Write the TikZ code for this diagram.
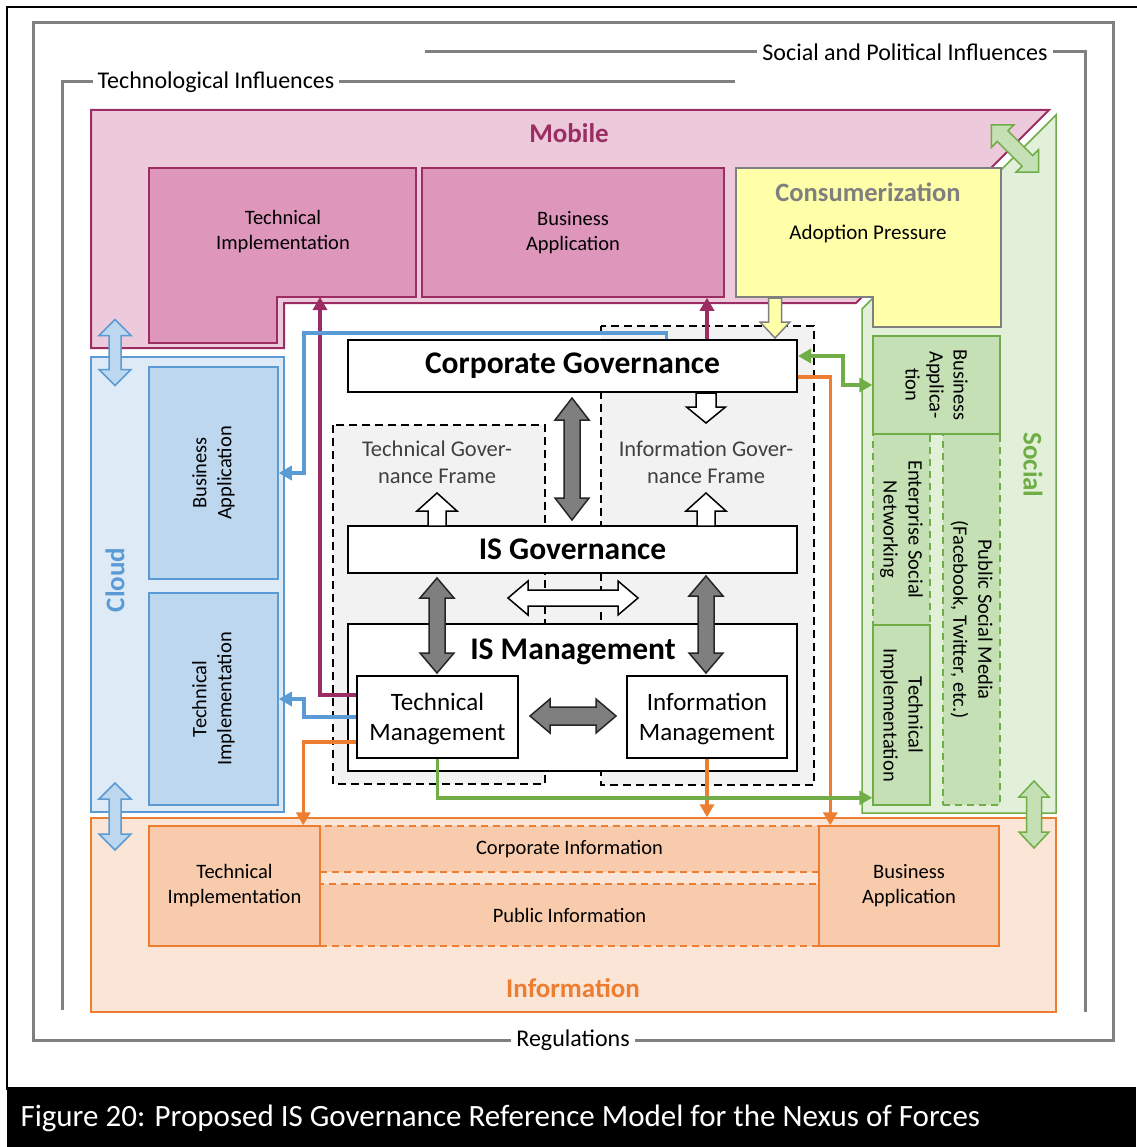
\documentclass[tikz,border=0pt]{standalone}
\usepackage{fontspec}
\setmainfont{Carlito}
\usetikzlibrary{arrows.meta,fit,positioning}

\definecolor{mobfill}{RGB}{236,201,219}
\definecolor{mobbox}{RGB}{222,150,187}
\definecolor{mobline}{RGB}{155,45,99}
\definecolor{cldfill}{RGB}{222,235,247}
\definecolor{cldbox}{RGB}{189,215,238}
\definecolor{cldline}{RGB}{91,155,213}
\definecolor{socfill}{RGB}{226,240,217}
\definecolor{socbox}{RGB}{197,224,180}
\definecolor{socline}{RGB}{112,173,71}
\definecolor{inffill}{RGB}{251,229,214}
\definecolor{infbox}{RGB}{248,203,173}
\definecolor{infline}{RGB}{237,125,49}
\definecolor{consfill}{RGB}{255,255,170}
\definecolor{consline}{RGB}{127,127,127}
\definecolor{framegray}{RGB}{128,128,128}
\definecolor{paneg}{RGB}{242,242,242}
\definecolor{darkarr}{RGB}{127,127,127}

% block arrows: style, centre, angle, half length, shaft/2, head/2, head length
\newcommand{\dblarr}[7]{%
  \begin{scope}[shift={#2},rotate=#3]
    \draw[#1] (-#4,0) -- (-#4+#7,#6) -- (-#4+#7,#5) -- (#4-#7,#5) -- (#4-#7,#6)
      -- (#4,0) -- (#4-#7,-#6) -- (#4-#7,-#5) -- (-#4+#7,-#5) -- (-#4+#7,-#6) -- cycle;
  \end{scope}}
\newcommand{\sglarr}[7]{%
  \begin{scope}[shift={#2},rotate=#3]
    \draw[#1] (-#4,#5) -- (#4-#7,#5) -- (#4-#7,#6) -- (#4,0) -- (#4-#7,-#6)
      -- (#4-#7,-#5) -- (-#4,-#5) -- cycle;
  \end{scope}}

\tikzset{
  frameline/.style={draw=framegray,line width=3pt},
  framelabel/.style={fill=white,inner sep=5pt,font=\fontsize{24}{28}\selectfont},
  region/.style={inner sep=0pt,line width=1.5pt},
  regtitle/.style={font=\bfseries\fontsize{27}{30}\selectfont},
  fitbox/.style={inner sep=0pt,line width=1.5pt},
  boxtxt/.style={align=center,font=\fontsize{20.5}{25}\selectfont},
  mobbx/.style={fitbox,draw=mobline,fill=mobbox},
  cldbx/.style={fitbox,draw=cldline,fill=cldbox},
  socbx/.style={fitbox,draw=socline,fill=socbox},
  infbx/.style={fitbox,draw=infline,fill=infbox},
  socdash/.style={dash pattern=on 7pt off 5pt},
  govbx/.style={fitbox,draw=black,fill=white,line width=2pt},
  govtxt/.style={font=\bfseries\fontsize{31.5}{34}\selectfont},
  mgttxt/.style={align=center,yshift=-2pt,font=\fontsize{25}{30}\selectfont},
  pane/.style={draw=black,line width=1.5pt,dash pattern=on 8pt off 5pt},
  panetxt/.style={align=center,text=black!75,font=\fontsize{22.5}{27}\selectfont},
  magln/.style={draw=mobline,line width=3.5pt},
  bluln/.style={draw=cldline,line width=3.5pt},
  orgln/.style={draw=infline,line width=3.5pt},
  grnln/.style={draw=socline,line width=3.5pt},
  dkarr/.style={draw=black!85,fill=darkarr,line width=1.5pt},
  hlarr/.style={draw=black,fill=white,line width=1.5pt},
  ylarr/.style={draw=consline,fill=consfill,line width=1.5pt},
  clarr/.style={draw=cldline,fill=cldbox,line width=1.5pt},
  soarr/.style={draw=socline,fill=socbox,line width=1.5pt}
}

\begin{document}
\begin{tikzpicture}[x=1pt,y=-1pt,line join=miter,>={Triangle[length=13pt,width=14pt]}]
\useasboundingbox (0,0) rectangle (1136,1147);

% page border and caption
\draw[line width=2pt] (7,1090) -- (7,7) -- (1140,7);
\fill[black] (7,1087) rectangle (1136,1147);
\node[anchor=west,text=white,font=\fontsize{31}{34}\selectfont] (caption) at (17,1118)
  {Figure 20: Proposed IS Governance Reference Model for the Nexus of Forces};

% influence frames
\draw[frameline] (33,23) rectangle (1113,1040);
\node[framelabel] (reg) at (573,1040) {Regulations};
\draw[frameline] (425,52) -- (1085,52) -- (1085,1012);
\node[framelabel] (spi) at (905,52) {Social and Political Influences};
\draw[frameline] (735,82) -- (62,82) -- (62,1010);
\node[framelabel] (tei) at (216,82) {Technological Influences};

% the four forces
\draw[draw=socline,fill=socfill,line width=1.5pt] (862,309) -- (1056,115) -- (1056,813) -- (862,813) -- cycle;
\draw[draw=mobline,fill=mobfill,line width=2pt] (91,110) -- (1049,110) -- (856,303) -- (284,303) -- (284,348) -- (91,348) -- cycle;
\node[region,draw=cldline,fill=cldfill,fit={(91,357) (284,812)}] (cld) {};
\node[region,draw=infline,fill=inffill,fit={(91,818) (1056,1012)}] (inf) {};
\node[regtitle,text=mobline] (mobt) at (569,133) {Mobile};
\node[regtitle,text=infline] (inft) at (573,988) {Information};
\node[regtitle,text=cldline,rotate=90] (cldt) at (115,580) {Cloud};
\node[regtitle,text=socline,rotate=-90] (soct) at (1033,465) {Social};

% mobile
\draw[mobbx] (149,168) -- (416,168) -- (416,297) -- (277,297) -- (277,343) -- (149,343) -- cycle;
\coordinate (mtiend) at (320,297);
\node[boxtxt] (mti) at (283,232) {Technical\\Implementation};
\node[mobbx,fit={(422,168) (724,297)}] (mba) {};
\node[boxtxt] at (mba) {Business\\Application};

% consumerization
\draw[draw=consline,fill=consfill,line width=2pt] (736,168) -- (1001,168) -- (1001,327) -- (873,327) -- (873,297) -- (736,297) -- cycle;
\node[font=\bfseries\fontsize{26.5}{30}\selectfont,text=consline] (cons) at (868,192) {Consumerization};
\node[font=\fontsize{21}{25}\selectfont] (adopt) at (868,234) {Adoption Pressure};

% cloud
\node[cldbx,fit={(149,367) (278,579)}] (cba) {};
\node[boxtxt,rotate=90] at (cba) {Business\\Application};
\node[cldbx,fit={(149,593) (278,805)}] (cti) {};
\node[boxtxt,rotate=90] at (cti) {Technical\\Implementation};

% social
\node[socbx,socdash,fit={(943,434) (1000,805)}] (psm) {};
\node[boxtxt,rotate=-90] at (psm) {Public Social Media\\(Facebook, Twitter, etc.)};
\node[socbx,socdash,fit={(873,434) (930,625)}] (esn) {};
\node[boxtxt,rotate=-90] at (esn) {Enterprise Social\\Networking};
\node[socbx,fit={(873,625) (930,805)}] (sti) {};
\node[boxtxt,rotate=-90] at (sti) {Technical\\Implementation};
\node[socbx,fit={(873,336) (1000,434)}] (sba) {};
\node[boxtxt,rotate=-90,font=\fontsize{20.5}{24}\selectfont] at (sba) {Business\\Applica-\\tion};

% information
\node[infbx,socdash,fit={(320,826) (819,872)}] (cori) {};
\node[boxtxt] at (cori) {Corporate Information};
\node[infbx,socdash,fit={(320,884) (819,946)}] (pubi) {};
\node[boxtxt] at (pubi) {Public Information};
\node[infbx,fit={(149,826) (320,946)}] (iti) {};
\node[boxtxt] at (iti) {Technical\\Implementation};
\node[infbx,fit={(819,826) (999,946)}] (iba) {};
\node[boxtxt] at (iba) {Business\\Application};

% governance frames
\fill[paneg] (333,425) rectangle (545,784);
\fill[paneg] (601,326) rectangle (814,785);
\fill[paneg] (545,573) rectangle (601,623);
\draw[pane] (333,425) rectangle (545,784);
\draw[pane] (601,326) rectangle (814,785);
\node[panetxt] (tgf) at (437,462) {Technical Gover-\\nance Frame};
\node[panetxt] (igf) at (706,462) {Information Gover-\\nance Frame};

\node[govbx,fit={(348,340) (797,392)}] (cg) {};
\node[govtxt] at (cg) {Corporate Governance};
\node[govbx,fit={(348,526) (797,573)}] (isg) {};
\node[govtxt] at (isg) {IS Governance};
\node[govbx,fit={(348,624) (797,771)}] (ism) {};
\node[govtxt] (ismt) at (573,652) {IS Management};
\node[govbx,fit={(357,676) (518,758)}] (tm) {};
\node[mgttxt] at (tm) {Technical\\Management};
\node[govbx,fit={(627,676) (787,758)}] (im) {};
\node[mgttxt] at (im) {Information\\Management};

% block arrows
\dblarr{dkarr}{(572,459)}{90}{61}{8}{17}{22}
\dblarr{dkarr}{(437,625.5)}{90}{47.5}{8}{17}{20}
\dblarr{dkarr}{(706,624.5)}{90}{48.5}{8}{17}{20}
\dblarr{dkarr}{(573,716)}{0}{43}{9}{17}{20}
\dblarr{hlarr}{(573,598)}{0}{65}{8}{17}{20}
\sglarr{hlarr}{(437,509.5)}{90}{16.5}{9}{20}{18}
\sglarr{hlarr}{(706,509.5)}{90}{16.5}{9}{20}{18}
\sglarr{hlarr}{(706,408)}{-90}{15}{10}{19.5}{16}
\sglarr{ylarr}{(775,318)}{-90}{20}{6.5}{15}{16}
\dblarr{clarr}{(115,352.5)}{90}{33}{6}{16}{16}
\dblarr{clarr}{(115,816.5)}{90}{33.5}{6}{16}{16}
\dblarr{soarr}{(1034,814.5)}{90}{33.5}{7.5}{15}{16}
\dblarr{soarr}{(1015,148.5)}{-45}{33.5}{7.5}{16}{16}

% connectors
\draw[magln,->] ([yshift=22pt]tm.west) -| (mtiend);
\draw[magln,->] (cg.north -| im.north) -- (mba.south -| im.north);
\draw[bluln,->] ([xshift=94pt]cg.north) |- (304,333) |- (cba.east);
\draw[bluln,->] (tm.west) -| (304,699) -- (cti.east);
\draw[orgln,->] ([yshift=-25pt]tm.west) -| ([xshift=-17.5pt]iti.north east);
\draw[orgln,->] (im.south) -- (im.south |- inf.north);
\draw[orgln,->] ([yshift=-11pt]cg.east) -| ([xshift=12pt]iba.north west);
\draw[grnln,->] (tm.south) |- ([yshift=8pt]sti.south west);
\draw[grnln,<->] ([yshift=10pt]cg.east) -| (843,385) -- (sba.west);
\end{tikzpicture}
\end{document}
